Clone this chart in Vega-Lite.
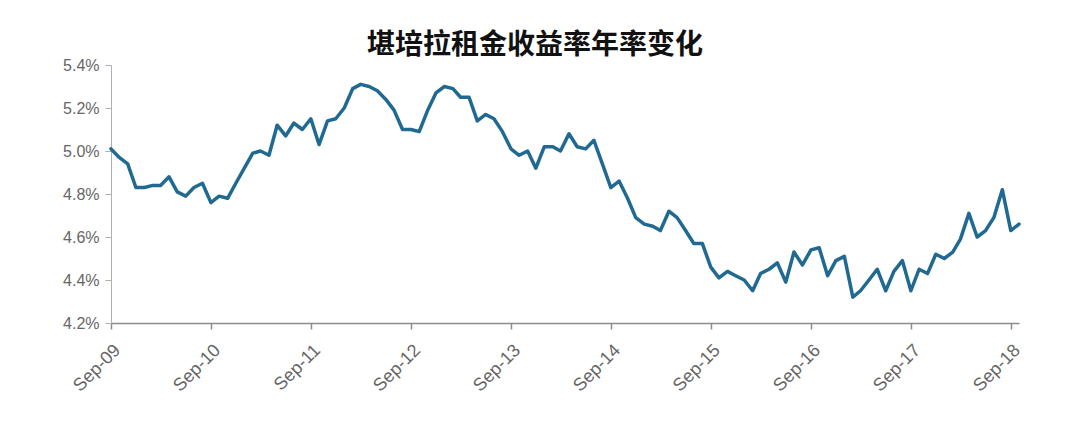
{
  "$schema": "https://vega.github.io/schema/vega-lite/v6.json",
  "autosize": {"type": "none"},
  "padding": {"left": 111, "top": 65, "right": 61, "bottom": 118},
  "width": 908,
  "height": 258,
  "background": "white",
  "title": {
    "text": "堪培拉租金收益率年率变化",
    "font": "Noto Sans CJK SC",
    "fontSize": 28,
    "fontWeight": "bold",
    "color": "#111111",
    "anchor": "middle",
    "dx": -30,
    "offset": -3
  },
  "config": {"view": {"stroke": null}},
  "data": {
    "values": [
      {"d": "2009-09-01", "v": 5.01}, {"d": "2009-10-01", "v": 4.97}, {"d": "2009-11-01", "v": 4.94}, {"d": "2009-12-01", "v": 4.83},
      {"d": "2010-01-01", "v": 4.83}, {"d": "2010-02-01", "v": 4.84}, {"d": "2010-03-01", "v": 4.84}, {"d": "2010-04-01", "v": 4.88},
      {"d": "2010-05-01", "v": 4.81}, {"d": "2010-06-01", "v": 4.79}, {"d": "2010-07-01", "v": 4.83}, {"d": "2010-08-01", "v": 4.85},
      {"d": "2010-09-01", "v": 4.76}, {"d": "2010-10-01", "v": 4.79}, {"d": "2010-11-01", "v": 4.78}, {"d": "2010-12-01", "v": 4.85},
      {"d": "2011-01-01", "v": 4.92}, {"d": "2011-02-01", "v": 4.99}, {"d": "2011-03-01", "v": 5.0}, {"d": "2011-04-01", "v": 4.98},
      {"d": "2011-05-01", "v": 5.12}, {"d": "2011-06-01", "v": 5.07}, {"d": "2011-07-01", "v": 5.13}, {"d": "2011-08-01", "v": 5.1},
      {"d": "2011-09-01", "v": 5.15}, {"d": "2011-10-01", "v": 5.03}, {"d": "2011-11-01", "v": 5.14}, {"d": "2011-12-01", "v": 5.15},
      {"d": "2012-01-01", "v": 5.2}, {"d": "2012-02-01", "v": 5.29}, {"d": "2012-03-01", "v": 5.31}, {"d": "2012-04-01", "v": 5.3},
      {"d": "2012-05-01", "v": 5.28}, {"d": "2012-06-01", "v": 5.24}, {"d": "2012-07-01", "v": 5.19}, {"d": "2012-08-01", "v": 5.1},
      {"d": "2012-09-01", "v": 5.1}, {"d": "2012-10-01", "v": 5.09}, {"d": "2012-11-01", "v": 5.19}, {"d": "2012-12-01", "v": 5.27},
      {"d": "2013-01-01", "v": 5.3}, {"d": "2013-02-01", "v": 5.29}, {"d": "2013-03-01", "v": 5.25}, {"d": "2013-04-01", "v": 5.25},
      {"d": "2013-05-01", "v": 5.14}, {"d": "2013-06-01", "v": 5.17}, {"d": "2013-07-01", "v": 5.15}, {"d": "2013-08-01", "v": 5.09},
      {"d": "2013-09-01", "v": 5.01}, {"d": "2013-10-01", "v": 4.98}, {"d": "2013-11-01", "v": 5.0}, {"d": "2013-12-01", "v": 4.92},
      {"d": "2014-01-01", "v": 5.02}, {"d": "2014-02-01", "v": 5.02}, {"d": "2014-03-01", "v": 5.0}, {"d": "2014-04-01", "v": 5.08},
      {"d": "2014-05-01", "v": 5.02}, {"d": "2014-06-01", "v": 5.01}, {"d": "2014-07-01", "v": 5.05}, {"d": "2014-08-01", "v": 4.94},
      {"d": "2014-09-01", "v": 4.83}, {"d": "2014-10-01", "v": 4.86}, {"d": "2014-11-01", "v": 4.78}, {"d": "2014-12-01", "v": 4.69},
      {"d": "2015-01-01", "v": 4.66}, {"d": "2015-02-01", "v": 4.65}, {"d": "2015-03-01", "v": 4.63}, {"d": "2015-04-01", "v": 4.72},
      {"d": "2015-05-01", "v": 4.69}, {"d": "2015-06-01", "v": 4.63}, {"d": "2015-07-01", "v": 4.57}, {"d": "2015-08-01", "v": 4.57},
      {"d": "2015-09-01", "v": 4.46}, {"d": "2015-10-01", "v": 4.41}, {"d": "2015-11-01", "v": 4.44}, {"d": "2015-12-01", "v": 4.42},
      {"d": "2016-01-01", "v": 4.4}, {"d": "2016-02-01", "v": 4.35}, {"d": "2016-03-01", "v": 4.43}, {"d": "2016-04-01", "v": 4.45},
      {"d": "2016-05-01", "v": 4.48}, {"d": "2016-06-01", "v": 4.39}, {"d": "2016-07-01", "v": 4.53}, {"d": "2016-08-01", "v": 4.47},
      {"d": "2016-09-01", "v": 4.54}, {"d": "2016-10-01", "v": 4.55}, {"d": "2016-11-01", "v": 4.42}, {"d": "2016-12-01", "v": 4.49},
      {"d": "2017-01-01", "v": 4.51}, {"d": "2017-02-01", "v": 4.32}, {"d": "2017-03-01", "v": 4.35}, {"d": "2017-04-01", "v": 4.4},
      {"d": "2017-05-01", "v": 4.45}, {"d": "2017-06-01", "v": 4.35}, {"d": "2017-07-01", "v": 4.44}, {"d": "2017-08-01", "v": 4.49},
      {"d": "2017-09-01", "v": 4.35}, {"d": "2017-10-01", "v": 4.45}, {"d": "2017-11-01", "v": 4.43}, {"d": "2017-12-01", "v": 4.52},
      {"d": "2018-01-01", "v": 4.5}, {"d": "2018-02-01", "v": 4.53}, {"d": "2018-03-01", "v": 4.59}, {"d": "2018-04-01", "v": 4.71},
      {"d": "2018-05-01", "v": 4.6}, {"d": "2018-06-01", "v": 4.63}, {"d": "2018-07-01", "v": 4.69}, {"d": "2018-08-01", "v": 4.82},
      {"d": "2018-09-01", "v": 4.63}, {"d": "2018-10-01", "v": 4.66}
    ]
  },
  "mark": {"type": "line", "color": "#206a92", "strokeWidth": 3.5, "strokeJoin": "round", "strokeCap": "round"},
  "encoding": {
    "x": {
      "field": "d",
      "type": "temporal",
      "scale": {
        "type": "utc",
        "domain": [
          {"year": 2009, "month": 9, "date": 1, "utc": true},
          {"year": 2018, "month": 10, "date": 1, "utc": true}
        ],
        "nice": false
      },
      "axis": {
        "title": null,
        "grid": false,
        "values": [
          {"year": 2009, "month": 9, "date": 1, "utc": true},
          {"year": 2010, "month": 9, "date": 1, "utc": true},
          {"year": 2011, "month": 9, "date": 1, "utc": true},
          {"year": 2012, "month": 9, "date": 1, "utc": true},
          {"year": 2013, "month": 9, "date": 1, "utc": true},
          {"year": 2014, "month": 9, "date": 1, "utc": true},
          {"year": 2015, "month": 9, "date": 1, "utc": true},
          {"year": 2016, "month": 9, "date": 1, "utc": true},
          {"year": 2017, "month": 9, "date": 1, "utc": true},
          {"year": 2018, "month": 9, "date": 1, "utc": true}
        ],
        "format": "%b-%y",
        "labelAngle": -45,
        "labelFont": "Liberation Sans",
        "labelFontSize": 18,
        "labelColor": "#666666",
        "labelPadding": 12,
        "labelOverlap": false,
        "labelFlush": false,
        "domainColor": "#8c8c8c",
        "domainWidth": 1.5,
        "tickColor": "#8c8c8c",
        "tickWidth": 1.5,
        "tickSize": 6
      }
    },
    "y": {
      "field": "v",
      "type": "quantitative",
      "scale": {"domain": [4.2, 5.4], "nice": false, "zero": false},
      "axis": {
        "title": null,
        "grid": false,
        "values": [4.2, 4.4, 4.6, 4.8, 5.0, 5.2, 5.4],
        "labelExpr": "format(datum.value, '.1f') + '%'",
        "labelFont": "Liberation Sans",
        "labelFontSize": 16,
        "labelColor": "#666666",
        "labelPadding": 6,
        "domainColor": "#b0b0b0",
        "domainWidth": 1,
        "tickColor": "#b0b0b0",
        "tickSize": 6
      }
    }
  }
}
